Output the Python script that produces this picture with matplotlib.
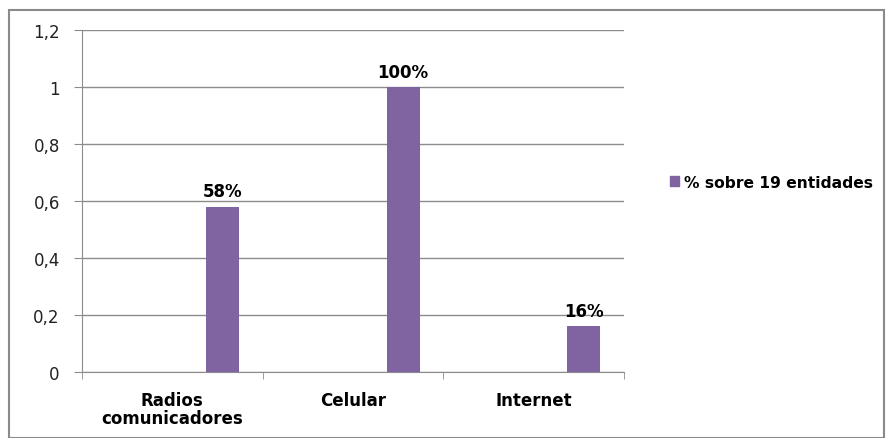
import numpy as np
import matplotlib
matplotlib.use("Agg")
import matplotlib.pyplot as plt
from matplotlib.patches import Patch, Rectangle
from matplotlib.ticker import FuncFormatter, MultipleLocator

categories = ["Radios\ncomunicadores", "Celular", "Internet"]
values = [0.58, 1.0, 0.16]
series_name = "% sobre 19 entidades"

bar_color = "#8064A2"
grid_color = "#8C8C8C"

W, H = 886, 439
fig = plt.figure(figsize=(W / 100, H / 100), dpi=100)
ax = fig.add_axes([82 / W, 66 / H, 542 / W, 342 / H])

x = np.arange(len(categories))
ax.bar(x + 0.277, values, width=0.183, color=bar_color, zorder=3)

for xi, v in zip(x, values):
    ax.text(xi + 0.277, v + 0.022, f"{v:.0%}", ha="center", va="bottom",
            fontsize=12, fontweight="bold", family="DejaVu Sans", color="black")

ax.set_xlim(-0.5, 2.5)
ax.set_ylim(0, 1.2)
ax.yaxis.set_major_locator(MultipleLocator(0.2))
ax.yaxis.set_major_formatter(FuncFormatter(lambda v, p: f"{v:g}".replace(".", ",")))
ax.grid(axis="y", color=grid_color, linewidth=1, zorder=0)

ax.set_xticks(x)
ax.set_xticklabels(categories, fontsize=12, fontweight="bold", linespacing=0.95)
ax.set_xticks([-0.5, 0.5, 1.5, 2.5], minor=True)
ax.tick_params(axis="x", which="major", length=0, pad=14)
ax.tick_params(axis="x", which="minor", length=5, color=grid_color, direction="out")
ax.tick_params(axis="y", length=6, color=grid_color, direction="out", pad=10,
               labelsize=12, labelcolor="#222222")

for s in ["top", "right"]:
    ax.spines[s].set_visible(False)
ax.spines["left"].set_color(grid_color)
ax.spines["bottom"].set_color(grid_color)

ax.legend(handles=[Patch(color=bar_color, label=series_name)],
          loc="center left", bbox_to_anchor=(656 / W, 1 - 183 / H),
          bbox_transform=fig.transFigure, frameon=False,
          handlelength=0.6, handleheight=0.6, handletextpad=0.3,
          prop={"size": 11.2, "weight": "bold"})

fig.patches.append(Rectangle((8.5 / W, 0), (884 - 8.5) / W, 1 - 10.5 / H,
                             transform=fig.transFigure, fill=False,
                             edgecolor="#8A8A8A", linewidth=1.5))

fig.savefig("out.png", dpi=100)
